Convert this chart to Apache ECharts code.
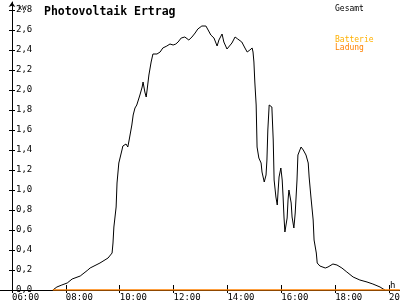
<!DOCTYPE html>
<html><head><meta charset="utf-8">
<script src="https://cdn.jsdelivr.net/npm/echarts@6/dist/echarts.min.js"></script>
<style>html,body{margin:0;padding:0;background:#fff}#c{width:400px;height:300px}</style>
</head><body><div id="c"></div>
<script>
var gesamtTimes = ["07:31","07:40","07:51","08:03","08:14","08:32","08:49","08:54","09:16","09:34","09:43","09:45","09:47","09:52","09:54","09:58","10:05","10:07","10:14","10:18","10:21","10:25","10:27","10:30","10:34","10:38","10:41","10:45","10:50","10:52","10:56","10:59","11:01","11:05","11:10","11:14","11:16","11:23","11:30","11:36","11:45","11:52","11:59","12:05","12:10","12:17","12:21","12:25","12:34","12:41","12:48","12:54","13:03","13:12","13:17","13:23","13:30","13:37","13:41","13:48","13:52","13:59","14:03","14:10","14:17","14:23","14:32","14:39","14:44","14:50","14:55","14:57","14:59","15:01","15:04","15:06","15:10","15:15","15:17","15:22","15:26","15:28","15:30","15:33","15:37","15:39","15:42","15:44","15:48","15:51","15:53","15:55","15:59","16:02","16:04","16:06","16:08","16:13","16:15","16:17","16:22","16:24","16:28","16:31","16:35","16:37","16:44","16:49","16:55","17:00","17:02","17:06","17:11","17:13","17:18","17:20","17:26","17:38","17:44","17:55","18:04","18:15","18:26","18:40","18:55","19:11","19:24","19:40","19:47","19:51"];
var gesamtValues = [0,0.03,0.05,0.07,0.11,0.14,0.20,0.22,0.27,0.32,0.37,0.47,0.63,0.83,1.07,1.27,1.40,1.44,1.46,1.43,1.50,1.60,1.65,1.75,1.82,1.85,1.86,1.95,2.03,2.08,1.98,1.93,2.00,2.15,2.28,2.36,2.38,2.36,2.38,2.42,2.44,2.46,2.45,2.46,2.48,2.52,2.54,2.53,2.50,2.53,2.57,2.61,2.64,2.64,2.60,2.55,2.52,2.44,2.50,2.56,2.48,2.41,2.42,2.47,2.53,2.51,2.48,2.42,2.38,2.40,2.42,2.38,2.28,2.08,1.85,1.43,1.32,1.27,1.18,1.08,1.15,1.30,1.60,1.85,1.87,1.83,1.50,1.10,0.93,0.85,1.00,1.13,1.22,1.10,0.93,0.73,0.58,0.72,0.90,1.00,0.87,0.73,0.62,0.77,1.10,1.35,1.43,1.40,1.35,1.27,1.13,0.93,0.70,0.50,0.37,0.27,0.24,0.22,0.23,0.26,0.25,0.22,0.18,0.13,0.10,0.08,0.06,0.03,0.01,0];
var ladungTimes = ["07:31","20:24"];
var ladungValues = [0,0];
var yTicks = [0,0.2,0.4,0.6,0.8,1.0,1.2,1.4,1.6,1.8,2.0,2.2,2.4,2.6,2.8];
var xTicks = [6,8,10,12,14,16,18,20];

function toH(s){var p=s.split(':');return +p[0]+(+p[1])/60;}
function pairs(t,v){return t.map(function(s,i){return [toH(s),v[i]];});}
function hhmm(v){var h=Math.round(v);return (h<10?'0':'')+h+':00';}

var FONT = '"DejaVu Sans Mono", monospace';
var chart = echarts.init(document.getElementById('c'), null, {renderer:'canvas'});
var xBase = {
  type:'value', min:6-12/26.93, max:6+388/26.93, position:'bottom',
  splitLine:{show:false}
};
var yBase = {
  type:'value', min:0, max:2.88, position:'left', offset:-12,
  splitLine:{show:false}
};
chart.setOption({
  animation:false,
  backgroundColor:'#fff',
  grid:{left:0,right:0,top:2,bottom:10,containLabel:false,outerBoundsMode:'none'},
  title:[
    {text:'Photovoltaik Ertrag',left:39,top:1,textStyle:{fontFamily:FONT,fontSize:11.5,fontWeight:'bold',color:'#000',lineHeight:13}},
    {text:'kW',left:13,top:0,textStyle:{fontFamily:FONT,fontSize:7,fontWeight:'normal',color:'#000'}},
    {text:'Gesamt',left:330,top:0,textStyle:{fontFamily:FONT,fontSize:8,fontWeight:'normal',color:'#000'}},
    {text:'Batterie',left:330,top:31,textStyle:{fontFamily:FONT,fontSize:8,fontWeight:'normal',color:'#FFB000'}},
    {text:'Ladung',left:330,top:39,textStyle:{fontFamily:FONT,fontSize:8,fontWeight:'normal',color:'#FF8000'}},
    {text:'h',left:385,top:276,textStyle:{fontFamily:FONT,fontSize:9,fontWeight:'normal',color:'#000'}}
  ],
  xAxis:[
    Object.assign({}, xBase, {
      axisLine:{show:true,lineStyle:{color:'#000',width:1}},
      axisTick:{show:true,length:3,customValues:xTicks,lineStyle:{color:'#000'}},
      axisLabel:{show:true,customValues:xTicks,formatter:hhmm,align:'left',margin:3,
        fontFamily:FONT,fontSize:9,color:'#000'}
    }),
    Object.assign({}, xBase, {
      axisLine:{show:false},
      axisTick:{show:true,inside:true,length:5,customValues:xTicks,lineStyle:{color:'#000'}},
      axisLabel:{show:false}
    })
  ],
  yAxis:[
    Object.assign({}, yBase, {
      axisLine:{show:true,lineStyle:{color:'#000',width:1},symbol:['none','arrow'],symbolSize:[5,5],symbolOffset:[0,0]},
      axisTick:{show:true,length:3,customValues:yTicks,lineStyle:{color:'#000'}},
      axisLabel:{show:true,inside:true,customValues:yTicks,margin:4,
        formatter:function(v){return v.toFixed(1).replace('.',',');},
        fontFamily:FONT,fontSize:9,color:'#000'}
    }),
    Object.assign({}, yBase, {
      axisLine:{show:false},
      axisTick:{show:true,inside:true,length:3,customValues:yTicks,lineStyle:{color:'#000'}},
      axisLabel:{show:false}
    })
  ],
  series:[
    {name:'Gesamt',type:'line',xAxisIndex:0,yAxisIndex:0,data:pairs(gesamtTimes,gesamtValues),
      showSymbol:false,symbol:'none',lineStyle:{color:'#000',width:1},z:3},
    {name:'Ladung',type:'line',xAxisIndex:0,yAxisIndex:0,data:pairs(ladungTimes,ladungValues),
      showSymbol:false,symbol:'none',lineStyle:{color:'#FF8000',width:1.5},z:4}
  ]
});
</script></body></html>
